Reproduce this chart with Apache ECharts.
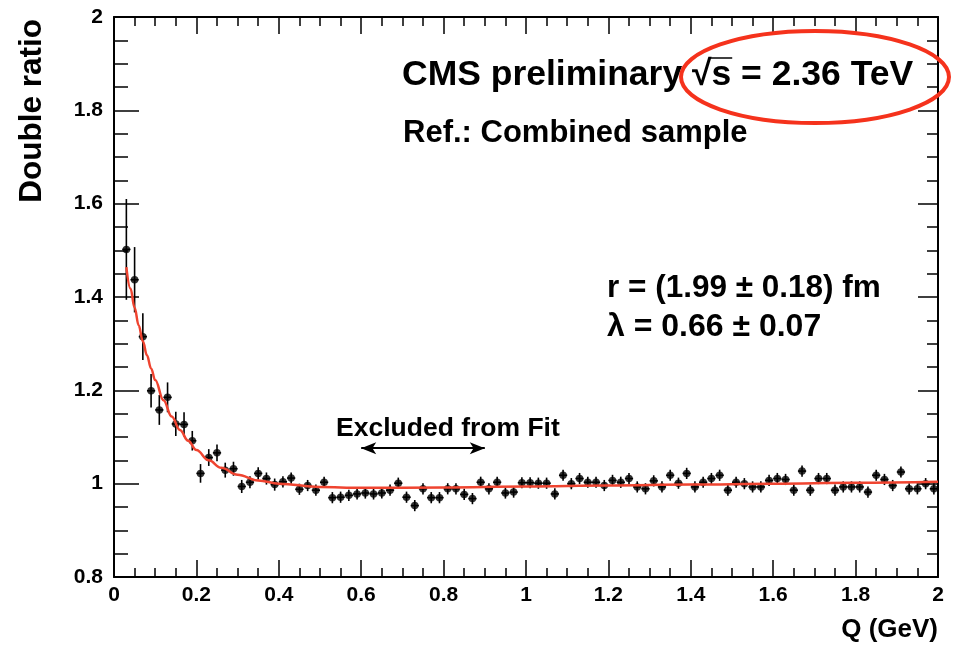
<!DOCTYPE html>
<html>
<head>
<meta charset="utf-8">
<script src="https://cdn.jsdelivr.net/npm/echarts@6/dist/echarts.min.js"></script>
<style>
  html, body { margin: 0; padding: 0; background: #fff; }
  #chart { width: 955px; height: 645px; }
</style>
</head>
<body>
<div id="chart"></div>
<script>
// Bin centres in Q (GeV)
const qValues = [
  0.03, 0.05, 0.07, 0.09, 0.11, 0.13, 0.15, 0.17, 0.19, 0.21,
  0.23, 0.25, 0.27, 0.29, 0.31, 0.33, 0.35, 0.37, 0.39, 0.41,
  0.43, 0.45, 0.47, 0.49, 0.51, 0.53, 0.55, 0.57, 0.59, 0.61,
  0.63, 0.65, 0.67, 0.69, 0.71, 0.73, 0.75, 0.77, 0.79, 0.81,
  0.83, 0.85, 0.87, 0.89, 0.91, 0.93, 0.95, 0.97, 0.99, 1.01,
  1.03, 1.05, 1.07, 1.09, 1.11, 1.13, 1.15, 1.17, 1.19, 1.21,
  1.23, 1.25, 1.27, 1.29, 1.31, 1.33, 1.35, 1.37, 1.39, 1.41,
  1.43, 1.45, 1.47, 1.49, 1.51, 1.53, 1.55, 1.57, 1.59, 1.61,
  1.63, 1.65, 1.67, 1.69, 1.71, 1.73, 1.75, 1.77, 1.79, 1.81,
  1.83, 1.85, 1.87, 1.89, 1.91, 1.93, 1.95, 1.97, 1.99
];

// Measured double ratio per bin
const doubleRatio = [
  1.502, 1.437, 1.315, 1.199, 1.158, 1.185, 1.128, 1.127, 1.092, 1.022,
  1.056, 1.066, 1.029, 1.032, 0.994, 1.003, 1.022, 1.011, 0.998, 1.004,
  1.012, 0.988, 0.996, 0.986, 1.003, 0.970, 0.971, 0.975, 0.978, 0.980,
  0.978, 0.980, 0.986, 1.001, 0.971, 0.953, 0.989, 0.970, 0.970, 0.989,
  0.989, 0.977, 0.968, 1.003, 0.989, 1.003, 0.980, 0.982, 1.002, 1.002,
  1.001, 1.001, 0.978, 1.018, 1.000, 1.011, 1.003, 1.003, 0.996, 1.007,
  1.003, 1.011, 0.993, 0.989, 1.006, 0.993, 1.018, 1.001, 1.022, 0.993,
  1.003, 1.011, 1.018, 0.986, 1.003, 1.000, 0.993, 0.993, 1.007, 1.011,
  1.009, 0.986, 1.027, 0.986, 1.011, 1.011, 0.986, 0.993, 0.993, 0.993,
  0.982, 1.018, 1.009, 0.996, 1.025, 0.989, 0.989, 1.000, 0.989
];

// Statistical uncertainty per bin
const ratioError = [
  0.108, 0.070, 0.050, 0.036, 0.032, 0.032, 0.026, 0.026, 0.021, 0.020,
  0.018, 0.018, 0.016, 0.015, 0.014, 0.013, 0.013, 0.013, 0.013, 0.012,
  0.012, 0.012, 0.012, 0.012, 0.012, 0.012, 0.012, 0.012, 0.012, 0.012,
  0.012, 0.012, 0.012, 0.012, 0.012, 0.012, 0.012, 0.012, 0.012, 0.012,
  0.012, 0.012, 0.012, 0.012, 0.012, 0.012, 0.012, 0.012, 0.012, 0.012,
  0.012, 0.012, 0.012, 0.012, 0.012, 0.012, 0.012, 0.012, 0.012, 0.012,
  0.012, 0.012, 0.012, 0.012, 0.012, 0.012, 0.012, 0.012, 0.012, 0.012,
  0.012, 0.012, 0.012, 0.012, 0.012, 0.012, 0.012, 0.012, 0.012, 0.012,
  0.012, 0.012, 0.012, 0.012, 0.012, 0.012, 0.012, 0.012, 0.012, 0.012,
  0.012, 0.012, 0.012, 0.012, 0.012, 0.012, 0.012, 0.012, 0.012
];
const binHalfWidth = 0.01;

// Fitted curve sampled along Q
const fitQ = [
  0.03, 0.04, 0.05, 0.06, 0.07, 0.08, 0.09, 0.10, 0.12, 0.14,
  0.16, 0.18, 0.20, 0.23, 0.26, 0.30, 0.35, 0.40, 0.50, 0.60,
  0.80, 1.00, 1.20, 1.40, 1.60, 1.80, 2.00
];
const fitValues = [
  1.464, 1.418, 1.377, 1.339, 1.305, 1.275, 1.247, 1.222, 1.179, 1.144,
  1.115, 1.092, 1.072, 1.050, 1.034, 1.019, 1.007, 1.000, 0.993, 0.991,
  0.992, 0.994, 0.996, 0.998, 1.000, 1.002, 1.004
];

// Region left out of the fit, and where its arrow sits
const excludedRange = [0.6, 0.9];
const excludedArrowLevel = 1.076;

const xTickLabels = ['0', '0.2', '0.4', '0.6', '0.8', '1', '1.2', '1.4', '1.6', '1.8', '2'];
const yTickLabels = ['0.8', '1', '1.2', '1.4', '1.6', '1.8', '2'];

const FONT = '"Liberation Sans", Arial, Helvetica, sans-serif';

const points = qValues.map((q, i) => [q, doubleRatio[i], ratioError[i]]);
const fitLine = fitQ.map((q, i) => [q, fitValues[i]]);

function xLabel(v) {
  const i = Math.round(v / 0.2);
  return xTickLabels[i] !== undefined ? xTickLabels[i] : '';
}
function yLabel(v) {
  const i = Math.round((v - 0.8) / 0.2);
  return yTickLabels[i] !== undefined ? yTickLabels[i] : '';
}

const axisLineStyle = { color: '#000', width: 2 };

function makeX(position, withLabels) {
  return {
    type: 'value', min: 0, max: 2, interval: 0.2, position: position,
    axisLine: { show: true, onZero: false, lineStyle: axisLineStyle },
    axisTick: { show: true, inside: true, length: 17, lineStyle: { color: '#000', width: 1.5 } },
    minorTick: { show: true, splitNumber: 4, length: 9, lineStyle: { color: '#000', width: 1.5 } },
    splitLine: { show: false }, minorSplitLine: { show: false },
    axisLabel: {
      show: withLabels, formatter: xLabel, margin: 8,
      color: '#000', fontSize: 21, fontWeight: 'bold', fontFamily: FONT
    }
  };
}
function makeY(position, withLabels, major, minor) {
  return {
    type: 'value', min: 0.8, max: 2, interval: 0.2, position: position,
    axisLine: { show: true, onZero: false, lineStyle: axisLineStyle },
    axisTick: { show: true, inside: true, length: major, lineStyle: { color: '#000', width: 1.5 } },
    minorTick: { show: true, splitNumber: 4, length: minor, lineStyle: { color: '#000', width: 1.5 } },
    splitLine: { show: false }, minorSplitLine: { show: false },
    axisLabel: {
      show: withLabels, formatter: yLabel, margin: 11,
      color: '#000', fontSize: 21, fontWeight: 'bold', fontFamily: FONT
    }
  };
}

// Headline text: the square-root sign gets an overbar drawn above the "s"
const headText = 'CMS preliminary \u221As = 2.36 TeV';
const headSize = 35.5;
const headX = 402, headY = 75;
const measureCtx = document.createElement('canvas').getContext('2d');
measureCtx.font = 'bold ' + headSize + 'px ' + FONT;
const barStart = headX + measureCtx.measureText('CMS preliminary \u221A').width - 2;
const barEnd = headX + measureCtx.measureText('CMS preliminary \u221As').width + 1;

const chart = echarts.init(document.getElementById('chart'), null, { renderer: 'canvas' });

chart.setOption({
  animation: false,
  backgroundColor: '#fff',
  grid: { left: 114, right: 17, top: 17, bottom: 68, show: false },
  xAxis: [makeX('bottom', true), makeX('top', false)],
  yAxis: [makeY('left', true, 25, 14), makeY('right', false, 20, 11)],
  series: [
    {
      name: 'errors',
      type: 'custom',
      xAxisIndex: 0, yAxisIndex: 0,
      clip: true,
      data: points,
      renderItem: function (params, api) {
        const q = api.value(0), r = api.value(1), e = api.value(2);
        const top = api.coord([q, r + e]);
        const bot = api.coord([q, r - e]);
        const lft = api.coord([q - binHalfWidth, r]);
        const rgt = api.coord([q + binHalfWidth, r]);
        const st = { stroke: '#000', lineWidth: 1.6 };
        return {
          type: 'group',
          children: [
            { type: 'line', shape: { x1: top[0], y1: top[1], x2: bot[0], y2: bot[1] }, style: st },
            { type: 'line', shape: { x1: lft[0], y1: lft[1], x2: rgt[0], y2: rgt[1] }, style: st }
          ]
        };
      },
      z: 2
    },
    {
      name: 'data',
      type: 'scatter',
      xAxisIndex: 0, yAxisIndex: 0,
      data: points.map(p => [p[0], p[1]]),
      symbol: 'circle',
      symbolSize: 7.5,
      itemStyle: { color: '#000' },
      z: 3,
      markLine: {
        silent: true,
        symbol: ['arrow', 'arrow'],
        symbolSize: [9, 15],
        label: { show: false },
        lineStyle: { color: '#000', width: 2, type: 'solid' },
        data: [[
          { coord: [excludedRange[0], excludedArrowLevel] },
          { coord: [excludedRange[1], excludedArrowLevel] }
        ]]
      }
    },
    {
      name: 'fit',
      type: 'line',
      xAxisIndex: 0, yAxisIndex: 0,
      data: fitLine,
      smooth: 0.4,
      smoothMonotone: 'x',
      showSymbol: false,
      lineStyle: { color: '#ef4430', width: 2.5 },
      z: 4
    }
  ],
  graphic: [
    { type: 'text', x: headX, y: headY, z: 10,
      style: { text: headText, fill: '#000', fontSize: headSize, fontWeight: 'bold', fontFamily: FONT, align: 'left', verticalAlign: 'middle' } },
    { type: 'line', z: 10,
      shape: { x1: barStart, y1: 58, x2: barEnd, y2: 58 },
      style: { stroke: '#000', lineWidth: 1.5 } },
    { type: 'text', x: 403, y: 133, z: 10,
      style: { text: 'Ref.: Combined sample', fill: '#000', fontSize: 31, fontWeight: 'bold', fontFamily: FONT, align: 'left', verticalAlign: 'middle' } },
    { type: 'text', x: 607, y: 288, z: 10,
      style: { text: 'r = (1.99 \u00B1 0.18) fm', fill: '#000', fontSize: 31.5, fontWeight: 'bold', fontFamily: FONT, align: 'left', verticalAlign: 'middle' } },
    { type: 'text', x: 607, y: 327, z: 10,
      style: { text: '\u03BB = 0.66 \u00B1 0.07', fill: '#000', fontSize: 32, fontWeight: 'bold', fontFamily: FONT, align: 'left', verticalAlign: 'middle' } },
    { type: 'text', x: 336, y: 429, z: 10,
      style: { text: 'Excluded from Fit', fill: '#000', fontSize: 26.5, fontWeight: 'bold', fontFamily: FONT, align: 'left', verticalAlign: 'middle' } },
    { type: 'text', x: 938, y: 630, z: 10,
      style: { text: 'Q (GeV)', fill: '#000', fontSize: 26, fontWeight: 'bold', fontFamily: FONT, align: 'right', verticalAlign: 'middle' } },
    { type: 'text', x: 32, y: 19, rotation: Math.PI / 2, z: 10,
      style: { text: 'Double ratio', fill: '#000', fontSize: 31.5, fontWeight: 'bold', fontFamily: FONT, align: 'right', verticalAlign: 'middle' } },
    { type: 'ellipse', z: 11,
      shape: { cx: 815, cy: 77, rx: 134, ry: 46 },
      style: { fill: null, stroke: '#f5321c', lineWidth: 4 } }
  ]
});
</script>
</body>
</html>
